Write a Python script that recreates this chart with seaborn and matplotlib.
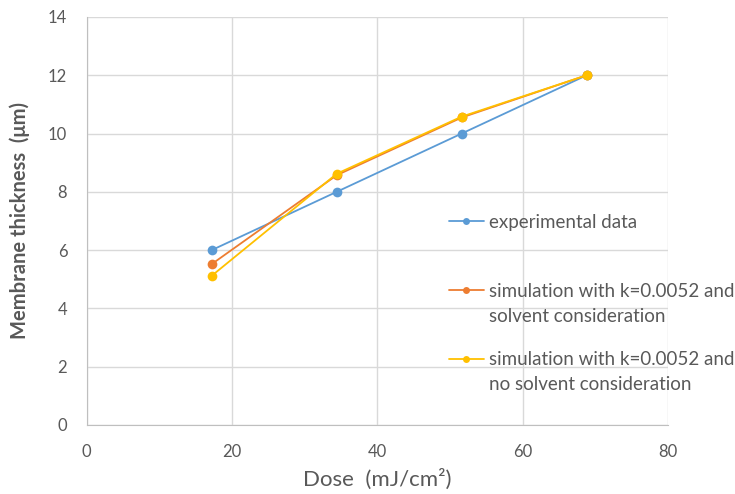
import matplotlib
matplotlib.use('Agg')
import matplotlib.pyplot as plt
import numpy as np
import pandas as pd
import seaborn as sns

dose = [17.2, 34.4, 51.6, 68.8]
experimental = [6.0, 8.0, 10.0, 12.0]
sim_solvent = [5.52, 8.57, 10.55, 12.0]
sim_no_solvent = [5.12, 8.62, 10.58, 12.0]

labels = ['experimental data',
          'simulation with k=0.0052 and\nsolvent consideration',
          'simulation with k=0.0052 and\nno solvent consideration']
colors = ['#5B9BD5', '#ED7D31', '#FFC000']

df = pd.DataFrame({
    'dose': dose * 3,
    'thickness': experimental + sim_solvent + sim_no_solvent,
    'series': [labels[0]] * 4 + [labels[1]] * 4 + [labels[2]] * 4,
})

sns.set_style('white')
plt.rcParams['font.family'] = ['Lato', 'DejaVu Sans']
grey = '#595959'

fig = plt.figure(figsize=(7.35, 4.94), dpi=100)
ax = fig.add_axes([0.118, 0.1397, 0.791, 0.826])

sns.lineplot(data=df, x='dose', y='thickness', hue='series', hue_order=labels,
             palette=colors, marker='o', markersize=7, markeredgewidth=0,
             linewidth=1.3, ax=ax, legend=True, sort=False)

ax.set_xlim(0, 80)
ax.set_ylim(0, 14)
ax.set_xticks(np.arange(0, 81, 20))
ax.set_yticks(np.arange(0, 15, 2))
ax.grid(True, color='#d9d9d9', linewidth=1)
ax.set_axisbelow(True)
for s in ['top', 'right']:
    ax.spines[s].set_visible(False)
for s in ['left', 'bottom']:
    ax.spines[s].set_color('#bfbfbf')
ax.tick_params(colors=grey, labelsize=12, length=0, pad=14)

ax.set_xlabel('Dose  (mJ/cm²)', fontsize=16, color=grey, labelpad=6)
ax.set_ylabel('Membrane thickness  (μm)', fontsize=14.5, color=grey,
              fontweight='bold', labelpad=13)

# excel-style legend: marker on the first line of each label
handles, _ = ax.get_legend_handles_labels()
first_lines = [l.split('\n')[0] for l in labels]
leg = ax.legend(handles, first_lines, loc='upper left',
                bbox_to_anchor=(449 / 735, 1 - 214 / 494),
                bbox_transform=fig.transFigure, frameon=False, fontsize=13.5,
                labelspacing=2.75, handlelength=1.85, handletextpad=0.3,
                borderaxespad=0, borderpad=0)
for t in leg.get_texts():
    t.set_color(grey)
for h in leg.legend_handles:
    h.set_markersize(5)

fig.canvas.draw()
renderer = fig.canvas.get_renderer()
for t, full in zip(leg.get_texts(), labels):
    parts = full.split('\n')
    if len(parts) > 1:
        bb = t.get_window_extent(renderer)
        fig.text(bb.x0 / fig.bbox.width, (bb.y0 - 25) / fig.bbox.height,
                 parts[1], fontsize=13.5, color=grey, va='bottom', ha='left')

plt.savefig('out.png', dpi=100)
